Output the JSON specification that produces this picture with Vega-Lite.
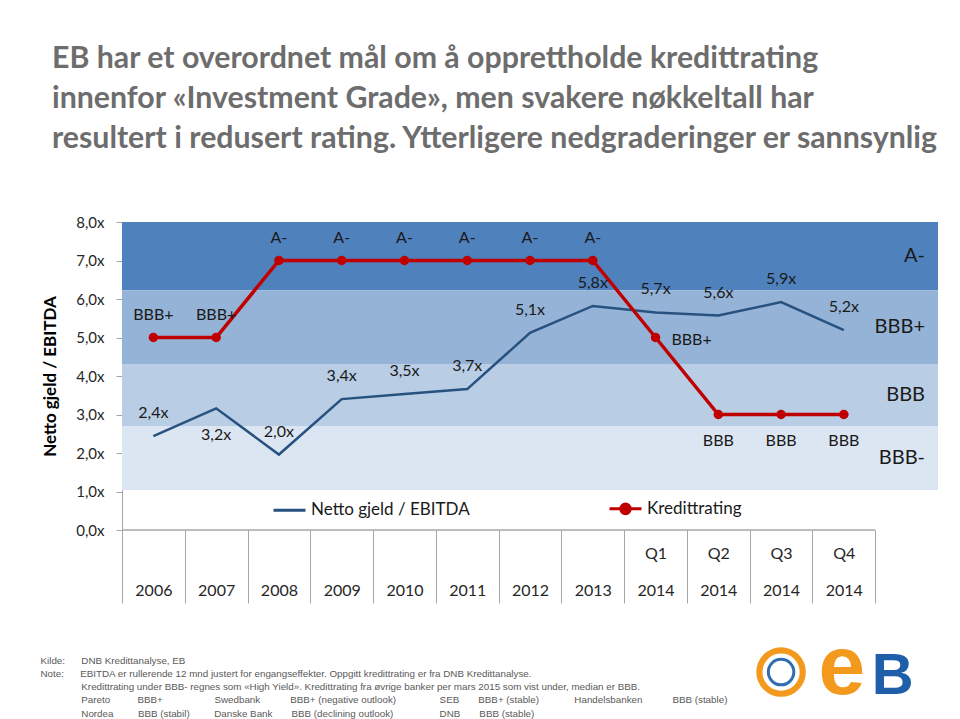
{
  "$schema": "https://vega.github.io/schema/vega-lite/v6.json",
  "width": 816,
  "height": 308,
  "autosize": {"type": "none"},
  "padding": {"left": 122, "top": 222, "right": 22, "bottom": 189},
  "background": "#ffffff",
  "config": {
    "view": {"stroke": null},
    "font": "Lato",
    "axisY": {
      "grid": false,
      "domainColor": "#a6a6a6",
      "tickColor": "#a6a6a6",
      "tickSize": 6,
      "labelPadding": 12,
      "labelFlush": false,
      "labelFont": "Lato",
      "labelFontSize": 15,
      "labelColor": "#262626",
      "titleFont": "Lato",
      "titleFontSize": 17,
      "titleFontWeight": "bold",
      "titleColor": "#000000",
      "titlePadding": 16
    }
  },
  "title": {
    "text": [
      "EB har et overordnet mål om å opprettholde kredittrating",
      "innenfor «Investment Grade», men svakere nøkkeltall har",
      "resultert i redusert rating. Ytterligere nedgraderinger er sannsynlig"
    ],
    "anchor": "start",
    "frame": "group",
    "dx": -70,
    "offset": 61,
    "font": "Lato",
    "fontSize": 30.3,
    "fontWeight": "bold",
    "color": "#6d6d6d",
    "lineHeight": 40
  },
  "datasets": {
    "bands": [
      {"rating": "A-", "lo": 6.23, "hi": 8.0},
      {"rating": "BBB+", "lo": 4.31, "hi": 6.23},
      {"rating": "BBB", "lo": 2.7, "hi": 4.31},
      {"rating": "BBB-", "lo": 1.04, "hi": 2.7}
    ],
    "main": [
      {"period": "2006", "series": "Netto gjeld / EBITDA", "value": 2.44, "label": "2,4x"},
      {"period": "2007", "series": "Netto gjeld / EBITDA", "value": 3.16, "label": "3,2x"},
      {"period": "2008", "series": "Netto gjeld / EBITDA", "value": 1.96, "label": "2,0x"},
      {"period": "2009", "series": "Netto gjeld / EBITDA", "value": 3.4, "label": "3,4x"},
      {"period": "2010", "series": "Netto gjeld / EBITDA", "value": 3.53, "label": "3,5x"},
      {"period": "2011", "series": "Netto gjeld / EBITDA", "value": 3.66, "label": "3,7x"},
      {"period": "2012", "series": "Netto gjeld / EBITDA", "value": 5.12, "label": "5,1x"},
      {"period": "2013", "series": "Netto gjeld / EBITDA", "value": 5.82, "label": "5,8x"},
      {"period": "Q1 2014", "series": "Netto gjeld / EBITDA", "value": 5.65, "label": "5,7x"},
      {"period": "Q2 2014", "series": "Netto gjeld / EBITDA", "value": 5.57, "label": "5,6x"},
      {"period": "Q3 2014", "series": "Netto gjeld / EBITDA", "value": 5.92, "label": "5,9x"},
      {"period": "Q4 2014", "series": "Netto gjeld / EBITDA", "value": 5.19, "label": "5,2x"},
      {"period": "2006", "series": "Kredittrating", "value": 5, "label": "BBB+"},
      {"period": "2007", "series": "Kredittrating", "value": 5, "label": "BBB+"},
      {"period": "2008", "series": "Kredittrating", "value": 7, "label": "A-"},
      {"period": "2009", "series": "Kredittrating", "value": 7, "label": "A-"},
      {"period": "2010", "series": "Kredittrating", "value": 7, "label": "A-"},
      {"period": "2011", "series": "Kredittrating", "value": 7, "label": "A-"},
      {"period": "2012", "series": "Kredittrating", "value": 7, "label": "A-"},
      {"period": "2013", "series": "Kredittrating", "value": 7, "label": "A-"},
      {"period": "Q1 2014", "series": "Kredittrating", "value": 5, "label": "BBB+"},
      {"period": "Q2 2014", "series": "Kredittrating", "value": 3, "label": "BBB"},
      {"period": "Q3 2014", "series": "Kredittrating", "value": 3, "label": "BBB"},
      {"period": "Q4 2014", "series": "Kredittrating", "value": 3, "label": "BBB"}
    ]
  },
  "layer": [
    {
      "data": {"name": "bands"},
      "mark": {"type": "rect"},
      "encoding": {
        "y": {
          "field": "lo",
          "type": "quantitative",
          "scale": {"domain": [0, 8], "nice": false, "zero": true},
          "axis": {"values": [0, 1, 2, 3, 4, 5, 6, 7, 8], "labelExpr": "replace(format(datum.value, '.1f'), '.', ',') + 'x'", "title": "Netto gjeld / EBITDA"}
        },
        "y2": {"field": "hi"},
        "fill": {
          "field": "rating",
          "type": "nominal",
          "scale": {"domain": ["A-", "BBB+", "BBB", "BBB-"], "range": ["#4F81BD", "#95B3D7", "#B9CDE5", "#DCE6F2"]},
          "legend": null
        }
      }
    },
    {
      "data": {"name": "bands"},
      "transform": [{"calculate": "(datum.lo + datum.hi) / 2", "as": "mid"}],
      "mark": {"type": "text", "x": "width", "align": "right", "dx": -13, "fontSize": 20, "color": "#1a1a1a", "font": "Lato"},
      "encoding": {
        "y": {
          "field": "mid",
          "type": "quantitative",
          "axis": {"values": [0, 1, 2, 3, 4, 5, 6, 7, 8], "labelExpr": "replace(format(datum.value, '.1f'), '.', ',') + 'x'", "title": "Netto gjeld / EBITDA"}
        },
        "text": {"field": "rating"}
      }
    },
    {
      "data": {"name": "main"},
      "encoding": {
        "x": {
          "field": "period",
          "type": "ordinal",
          "scale": {
            "type": "band",
            "domain": ["2006", "2007", "2008", "2009", "2010", "2011", "2012", "2013", "Q1 2014", "Q2 2014", "Q3 2014", "Q4 2014", "pad"],
            "paddingInner": 0,
            "paddingOuter": 0
          },
          "axis": {
            "values": ["2006", "2007", "2008", "2009", "2010", "2011", "2012", "2013", "Q1 2014", "Q2 2014", "Q3 2014", "Q4 2014"],
            "domain": false,
            "tickBand": "extent",
            "tickSize": 73,
            "tickColor": "#a6a6a6",
            "tickWidth": 1,
            "labelExpr": "indexof(datum.label, ' ') > 0 ? split(datum.label, ' ') : ['', datum.label]",
            "labelAngle": 0,
            "labelBaseline": "top",
            "labelPadding": -58,
            "labelLineHeight": 37,
            "labelFont": "Lato",
            "labelFontSize": 16,
            "labelColor": "#262626",
            "labelOverlap": false,
            "labelFlush": false,
            "title": [
              "Kilde:\u00a0\u00a0\u00a0\u00a0\u00a0\u00a0DNB Kredittanalyse, EB",
              "Note:\u00a0\u00a0\u00a0\u00a0\u00a0\u00a0EBITDA er rullerende 12 mnd justert for engangseffekter. Oppgitt kredittrating er fra DNB Kredittanalyse.",
              "\u200b\u00a0\u00a0\u00a0\u00a0\u00a0\u00a0\u00a0\u00a0\u00a0\u00a0\u00a0\u00a0\u00a0\u00a0\u00a0Kredittrating under BBB- regnes som «High Yield». Kredittrating fra øvrige banker per mars 2015 som vist under, median er BBB.",
              "\u200b\u00a0\u00a0\u00a0\u00a0\u00a0\u00a0\u00a0\u00a0\u00a0\u00a0\u00a0\u00a0\u00a0\u00a0\u00a0Pareto\u00a0\u00a0\u00a0\u00a0\u00a0\u00a0\u00a0\u00a0\u00a0\u00a0BBB+\u00a0\u00a0\u00a0\u00a0\u00a0\u00a0\u00a0\u00a0\u00a0\u00a0\u00a0\u00a0\u00a0\u00a0\u00a0\u00a0\u00a0\u00a0\u00a0Swedbank\u00a0\u00a0\u00a0\u00a0\u00a0\u00a0\u00a0\u00a0\u00a0\u00a0\u00a0BBB+ (negative outlook)\u00a0\u00a0\u00a0\u00a0\u00a0\u00a0\u00a0\u00a0\u00a0\u00a0\u00a0\u00a0\u00a0\u00a0\u00a0\u00a0SEB\u00a0\u00a0\u00a0\u00a0\u00a0\u00a0\u00a0BBB+ (stable)\u00a0\u00a0\u00a0\u00a0\u00a0\u00a0\u00a0\u00a0\u00a0\u00a0\u00a0\u00a0\u00a0Handelsbanken\u00a0\u00a0\u00a0\u00a0\u00a0\u00a0\u00a0\u00a0\u00a0\u00a0\u00a0BBB (stable)",
              "\u200b\u00a0\u00a0\u00a0\u00a0\u00a0\u00a0\u00a0\u00a0\u00a0\u00a0\u00a0\u00a0\u00a0\u00a0\u00a0Nordea\u00a0\u00a0\u00a0\u00a0\u00a0\u00a0\u00a0\u00a0\u00a0BBB (stabil)\u00a0\u00a0\u00a0\u00a0\u00a0\u00a0\u00a0\u00a0\u00a0Danske Bank\u00a0\u00a0\u00a0\u00a0\u00a0\u00a0\u00a0BBB (declining outlook)\u00a0\u00a0\u00a0\u00a0\u00a0\u00a0\u00a0\u00a0\u00a0\u00a0\u00a0\u00a0\u00a0\u00a0\u00a0\u00a0\u00a0DNB\u00a0\u00a0\u00a0\u00a0\u00a0\u00a0\u00a0BBB (stable)"
            ],
            "titleX": -82,
            "titleY": 125,
            "titleAlign": "left",
            "titleAnchor": "start",
            "titleBaseline": "top",
            "titleAngle": 0,
            "titleFont": "Liberation Sans",
            "titleFontSize": 9.8,
            "titleFontWeight": "normal",
            "titleColor": "#595959",
            "titleLineHeight": 13.25
          }
        },
        "y": {
          "field": "value",
          "type": "quantitative",
          "axis": {"values": [0, 1, 2, 3, 4, 5, 6, 7, 8], "labelExpr": "replace(format(datum.value, '.1f'), '.', ',') + 'x'", "title": "Netto gjeld / EBITDA"}
        }
      },
      "layer": [
        {
          "transform": [{"filter": "datum.series === 'Kredittrating'"}],
          "mark": {"type": "rect", "fill": "transparent", "stroke": "#a6a6a6", "strokeWidth": 1},
          "encoding": {
            "y": {
              "datum": 0,
              "type": "quantitative",
              "axis": {"values": [0, 1, 2, 3, 4, 5, 6, 7, 8], "labelExpr": "replace(format(datum.value, '.1f'), '.', ',') + 'x'", "title": "Netto gjeld / EBITDA"}
            },
            "y2": {"datum": 0}
          }
        },
        {
          "transform": [{"filter": "datum.series === 'Netto gjeld / EBITDA'"}],
          "mark": {"type": "line", "strokeWidth": 2.5},
          "encoding": {
            "color": {
              "field": "series",
              "type": "nominal",
              "scale": {"domain": ["Netto gjeld / EBITDA", "Kredittrating"], "range": ["#27527F", "#C00000"]},
              "legend": {
                "title": null,
                "orient": "none",
                "legendX": 150,
                "legendY": 269,
                "direction": "horizontal",
                "symbolType": "stroke",
                "symbolSize": 1024,
                "symbolStrokeWidth": 3,
                "labelFont": "Lato",
                "labelFontSize": 17,
                "labelColor": "#1a1a1a",
                "labelOffset": 4,
                "columnPadding": 133,
                "padding": 0,
                "encode": {
                  "symbols": {
                    "update": {
                      "shape": {"signal": "datum.value === 'Kredittrating' ? 'M-1,0H1M0.3,0A0.3,0.3,0,1,1,-0.3,0A0.3,0.3,0,1,1,0.3,0' : 'stroke'"},
                      "fill": {"signal": "datum.value === 'Kredittrating' ? '#C00000' : 'transparent'"}
                    }
                  }
                }
              }
            }
          }
        },
        {
          "transform": [{"filter": "datum.series === 'Kredittrating'"}],
          "mark": {"type": "line", "strokeWidth": 3.5},
          "encoding": {
            "color": {
              "field": "series",
              "type": "nominal",
              "scale": {"domain": ["Netto gjeld / EBITDA", "Kredittrating"], "range": ["#27527F", "#C00000"]}
            }
          }
        },
        {
          "transform": [{"filter": "datum.series === 'Kredittrating'"}],
          "mark": {"type": "point", "filled": true, "size": 90, "color": "#C00000", "opacity": 1}
        },
        {
          "transform": [{"filter": "datum.series === 'Netto gjeld / EBITDA' && datum.period !== '2007'"}],
          "mark": {"type": "text", "dy": -23, "fontSize": 16, "font": "Lato", "color": "#1a1a1a"},
          "encoding": {"text": {"field": "label"}}
        },
        {
          "transform": [{"filter": "datum.series === 'Netto gjeld / EBITDA' && datum.period === '2007'"}],
          "mark": {"type": "text", "dy": 27, "fontSize": 16, "font": "Lato", "color": "#1a1a1a"},
          "encoding": {"text": {"field": "label"}}
        },
        {
          "transform": [{"filter": "datum.series === 'Kredittrating' && length(datum.period) === 4"}],
          "mark": {"type": "text", "dy": -23, "fontSize": 16, "font": "Lato", "color": "#1a1a1a"},
          "encoding": {"text": {"field": "label"}}
        },
        {
          "transform": [{"filter": "datum.series === 'Kredittrating' && datum.period === 'Q1 2014'"}],
          "mark": {"type": "text", "dx": 36, "dy": 2, "fontSize": 16, "font": "Lato", "color": "#1a1a1a"},
          "encoding": {"text": {"field": "label"}}
        },
        {
          "transform": [{"filter": "datum.series === 'Kredittrating' && length(datum.period) > 4 && datum.period !== 'Q1 2014'"}],
          "mark": {"type": "text", "dy": 26, "fontSize": 16, "font": "Lato", "color": "#1a1a1a"},
          "encoding": {"text": {"field": "label"}}
        },
        {
          "data": {"values": [{"period": "Q3 2014", "value": -3.69}]},
          "mark": {"type": "point", "shape": "circle", "filled": true, "size": 2460, "color": "#F39A1E", "opacity": 1, "dx": 8}
        },
        {
          "data": {"values": [{"period": "Q3 2014", "value": -3.69}]},
          "mark": {"type": "point", "shape": "circle", "filled": true, "size": 1385, "color": "#ffffff", "opacity": 1, "dx": 15}
        },
        {
          "data": {"values": [{"period": "Q3 2014", "value": -3.69}]},
          "mark": {"type": "point", "shape": "circle", "filled": false, "size": 650, "color": "#2E6DB4", "strokeWidth": 3, "opacity": 1, "dx": 18}
        },
        {
          "data": {"values": [{"period": "Q4 2014", "value": -4.27}]},
          "mark": {"type": "text", "text": "e", "font": "Liberation Sans", "fontWeight": "bold", "fontSize": 84, "color": "#F39A1E", "baseline": "alphabetic", "align": "center", "dx": -2}
        },
        {
          "data": {"values": [{"period": "pad", "value": -4.27}]},
          "mark": {"type": "text", "text": "B", "font": "Liberation Sans", "fontWeight": "bold", "fontSize": 58, "color": "#1F5FAA", "baseline": "alphabetic", "align": "center", "dx": -14}
        }
      ]
    }
  ]
}
